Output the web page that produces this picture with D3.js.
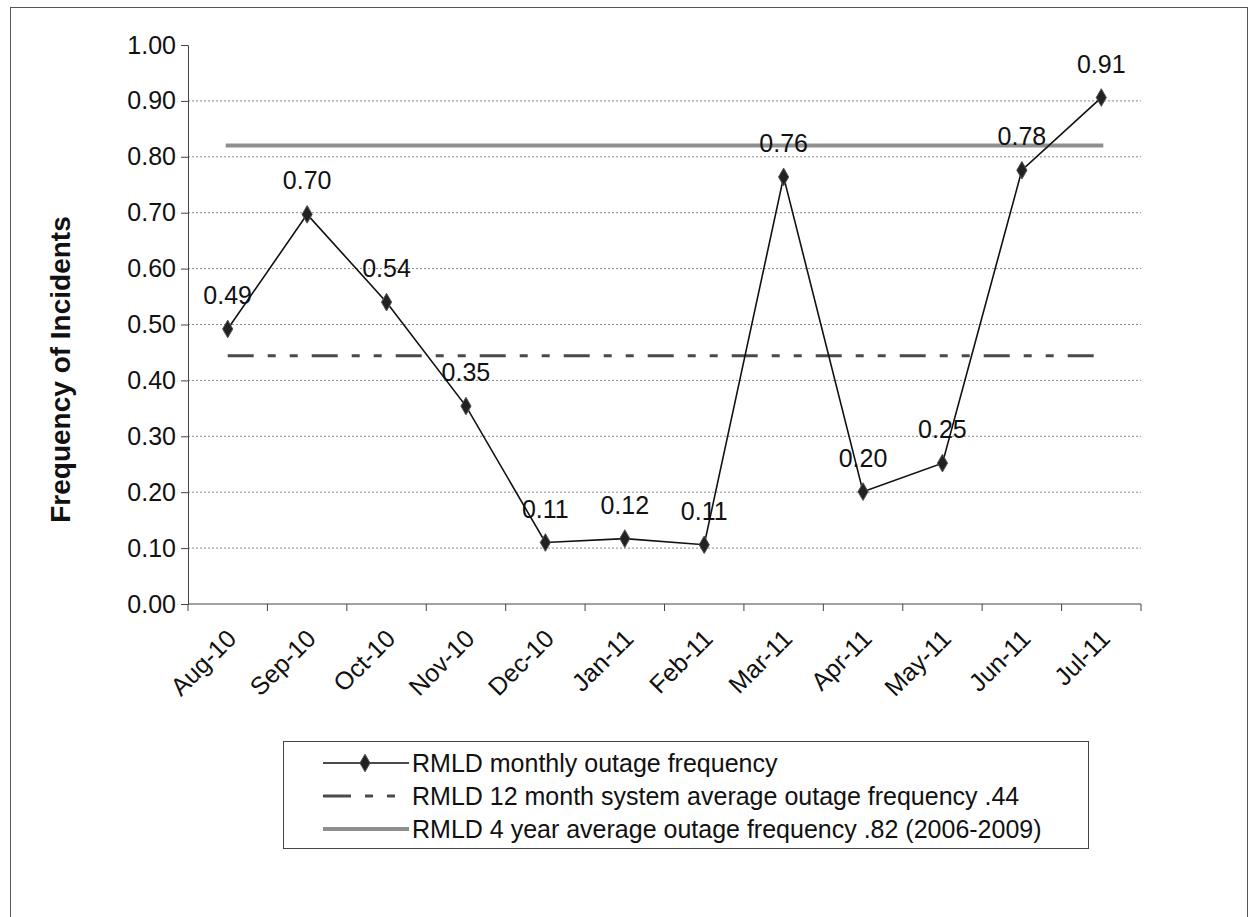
<!DOCTYPE html>
<html lang="en">
<head>
  <meta charset="UTF-8">
  <title>RMLD outage frequency</title>
  <script src="https://d3js.org/d3.v7.min.js"></script>
  <style>
    body { margin: 0; background: #fff; }
    svg { display: block; font-family: "Liberation Sans", Arial, sans-serif; }
    .tick text { font-size: 25px; fill: #111; }
    .grid line { stroke: #888; stroke-dasharray: 2,2; }
    .label { font-size: 25px; fill: #111; text-anchor: middle; }
    .legend text { font-size: 25px; fill: #111; }
  </style>
</head>
<body>
  <svg width="1253" height="917"></svg>

  <script>
    // Data
    const months = ["Aug-10", "Sep-10", "Oct-10", "Nov-10", "Dec-10", "Jan-11",
                    "Feb-11", "Mar-11", "Apr-11", "May-11", "Jun-11", "Jul-11"];
    const monthly = [0.492, 0.697, 0.540, 0.354, 0.110, 0.117, 0.106, 0.764, 0.201, 0.252, 0.776, 0.906];
    const avg12 = [0.444, 0.444, 0.444, 0.444, 0.444, 0.444, 0.444, 0.444, 0.444, 0.444, 0.444, 0.444];
    const avg4yr = [0.82, 0.82, 0.82, 0.82, 0.82, 0.82, 0.82, 0.82, 0.82, 0.82, 0.82, 0.82];
    const yTicks = [0, 0.1, 0.2, 0.3, 0.4, 0.5, 0.6, 0.7, 0.8, 0.9, 1.0];
    const legendLabels = [
      "RMLD monthly outage frequency",
      "RMLD 12 month system average outage frequency .44",
      "RMLD 4 year average outage frequency .82 (2006-2009)"
    ];

    const width = 1253, height = 917;
    const margin = { top: 45, right: 112, bottom: 313, left: 188 };

    const svg = d3.select("svg");

    // outer chart frame
    svg.append("rect")
      .attr("x", 10.5).attr("y", 7.5)
      .attr("width", 1237).attr("height", 960)
      .attr("fill", "none").attr("stroke", "#555").attr("stroke-width", 1);

    const x = d3.scaleBand()
      .domain(months)
      .range([margin.left, width - margin.right]);

    const y = d3.scaleLinear()
      .domain([0, 1])
      .range([height - margin.bottom, margin.top]);

    const cx = d => x(d) + x.bandwidth() / 2;

    // gridlines
    svg.append("g")
      .attr("class", "grid")
      .selectAll("line")
      .data(yTicks.filter(t => t > 0 && t < 1))
      .join("line")
      .attr("x1", x.range()[0]).attr("x2", x.range()[1])
      .attr("y1", d => y(d)).attr("y2", d => y(d));

    // y axis
    const yAxis = svg.append("g")
      .attr("transform", `translate(${margin.left},0)`)
      .call(d3.axisLeft(y).tickValues(yTicks).tickFormat(d3.format(".2f"))
        .tickSize(7).tickPadding(5));
    yAxis.select(".domain").attr("stroke", "#444");
    yAxis.selectAll(".tick line").attr("stroke", "#444");

    // x axis with ticks between categories
    const xAxisG = svg.append("g")
      .attr("transform", `translate(0,${y(0)})`);
    xAxisG.append("line")
      .attr("x1", x.range()[0]).attr("x2", x.range()[1])
      .attr("stroke", "#444");
    xAxisG.selectAll(".xt")
      .data(months.concat(["end"]))
      .join("line")
      .attr("class", "xt")
      .attr("x1", (d, i) => x.range()[0] + i * x.step())
      .attr("x2", (d, i) => x.range()[0] + i * x.step())
      .attr("y1", 0).attr("y2", 7)
      .attr("stroke", "#444");
    xAxisG.selectAll(".xl")
      .data(months)
      .join("text")
      .attr("class", "xl")
      .attr("transform", d => `translate(${cx(d) + 4},${30}) rotate(-45)`)
      .attr("text-anchor", "end")
      .attr("dy", "0.35em")
      .style("font-size", "25px")
      .attr("fill", "#111")
      .text(d => d);

    // y axis title
    svg.append("text")
      .attr("transform", `translate(70,${(y(0) + y(1)) / 2 + 45}) rotate(-90)`)
      .attr("text-anchor", "middle")
      .style("font-size", "28px")
      .style("font-weight", "bold")
      .attr("fill", "#111")
      .text("Frequency of Incidents");

    const line = d3.line()
      .x((d, i) => cx(months[i]))
      .y(d => y(d));

    // 4 year average (grey heavy line)
    svg.append("path")
      .datum(avg4yr)
      .attr("d", line)
      .attr("fill", "none")
      .attr("stroke", "#8f8f8f")
      .attr("stroke-width", 4)
      .attr("stroke-linecap", "square");

    // 12 month average (dashed)
    svg.append("path")
      .datum(avg12)
      .attr("d", line)
      .attr("fill", "none")
      .attr("stroke", "#4a4a4a")
      .attr("stroke-width", 3)
      .attr("stroke-dasharray", "26,14,8,14,8,14");

    // monthly series
    svg.append("path")
      .datum(monthly)
      .attr("d", line)
      .attr("fill", "none")
      .attr("stroke", "#111")
      .attr("stroke-width", 1.6);

    const diamond = d3.symbol().type(d3.symbolDiamond).size(90);

    svg.selectAll(".pt")
      .data(monthly)
      .join("path")
      .attr("class", "pt")
      .attr("d", diamond)
      .attr("transform", (d, i) => `translate(${cx(months[i])},${y(d)})`)
      .attr("fill", "#222")
      .attr("stroke", "#555");

    svg.selectAll(".label")
      .data(monthly)
      .join("text")
      .attr("class", "label")
      .attr("x", (d, i) => cx(months[i]))
      .attr("y", d => y(d) - 25)
      .text(d => d3.format(".2f")(d));

    // legend
    const lg = svg.append("g").attr("class", "legend");
    lg.append("rect")
      .attr("x", 283.5).attr("y", 741.5)
      .attr("width", 805).attr("height", 107)
      .attr("fill", "#fff").attr("stroke", "#444");

    const rows = lg.selectAll(".row")
      .data(legendLabels)
      .join("g")
      .attr("class", "row")
      .attr("transform", (d, i) => `translate(323,${763 + i * 33})`);

    rows.filter((d, i) => i === 0).each(function () {
      const g = d3.select(this);
      g.append("line").attr("x1", 0).attr("x2", 86)
        .attr("stroke", "#111").attr("stroke-width", 1.6);
      g.append("path").attr("d", diamond)
        .attr("transform", "translate(42,0)")
        .attr("fill", "#222").attr("stroke", "#555");
    });
    rows.filter((d, i) => i === 1).append("line")
      .attr("x1", 0).attr("x2", 86)
      .attr("stroke", "#4a4a4a").attr("stroke-width", 3)
      .attr("stroke-dasharray", "28,14,8,14,8,14");
    rows.filter((d, i) => i === 2).append("line")
      .attr("x1", 0).attr("x2", 86)
      .attr("stroke", "#8f8f8f").attr("stroke-width", 4);

    rows.append("text")
      .attr("x", 89)
      .attr("dy", "0.35em")
      .text(d => d);
  </script>
</body>
</html>
